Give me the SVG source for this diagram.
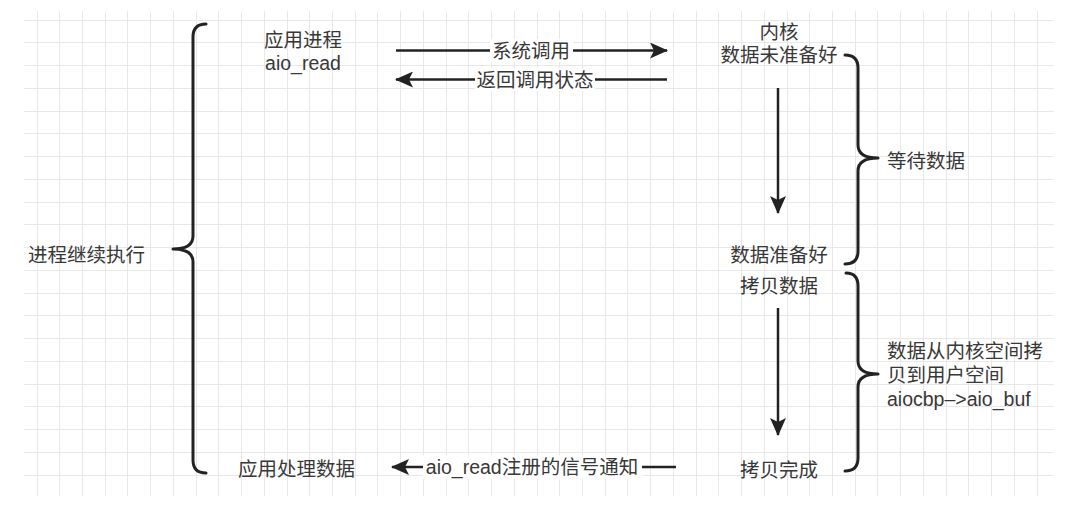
<svg xmlns="http://www.w3.org/2000/svg" width="1084" height="521" viewBox="0 0 1084 521">
<style>
.t{font-family:"Liberation Sans","Noto Sans CJK SC",sans-serif;font-size:19.5px;fill:#383838}
.c{text-anchor:middle}
.br{fill:none;stroke:#222;stroke-width:3;stroke-linecap:round;stroke-linejoin:round}
.ar{fill:none;stroke:#222;stroke-width:2.5}
.grid{fill:none;stroke:#e8e8e8;stroke-width:1}
.bg{fill:#fff}
</style>
<defs>
<marker id="arr" markerUnits="userSpaceOnUse" viewBox="0 0 18 16" markerWidth="18" markerHeight="16" refX="17" refY="8" orient="auto">
<path d="M0,0 L18,8 L0,16 L4,8 Z" fill="#222"/>
</marker>
</defs>
<rect width="1084" height="521" fill="#fff"/>
<g id="grid">
<path class="grid" d="M37.5,11V496M59.5,11V496M82.5,11V496M105.5,11V496M127.5,11V496M150.5,11V496M173.5,11V496M196.5,11V496M218.5,11V496M241.5,11V496M264.5,11V496M287.5,11V496M309.5,11V496M332.5,11V496M355.5,11V496M377.5,11V496M400.5,11V496M423.5,11V496M446.5,11V496M468.5,11V496M491.5,11V496M514.5,11V496M537.5,11V496M559.5,11V496M582.5,11V496M605.5,11V496M627.5,11V496M650.5,11V496M673.5,11V496M696.5,11V496M718.5,11V496M741.5,11V496M764.5,11V496M787.5,11V496M809.5,11V496M832.5,11V496M855.5,11V496M877.5,11V496M900.5,11V496M923.5,11V496M946.5,11V496M968.5,11V496M991.5,11V496M1014.5,11V496M1037.5,11V496"/>
<path class="grid" d="M24,20.5H1054M24,42.5H1054M24,65.5H1054M24,88.5H1054M24,111.5H1054M24,133.5H1054M24,156.5H1054M24,179.5H1054M24,202.5H1054M24,224.5H1054M24,247.5H1054M24,270.5H1054M24,293.5H1054M24,315.5H1054M24,338.5H1054M24,361.5H1054M24,384.5H1054M24,406.5H1054M24,429.5H1054M24,452.5H1054M24,475.5H1054"/>
</g>
<g id="connectors">
<path class="ar" d="M396,50.5 L667,50.5" marker-end="url(#arr)"/>
<path class="ar" d="M667,79.5 L396,79.5" marker-end="url(#arr)"/>
<path class="ar" d="M778,88 L778,213" marker-end="url(#arr)"/>
<path class="ar" d="M778,308 L778,435" marker-end="url(#arr)"/>
<path class="ar" d="M676,467 L392,467" marker-end="url(#arr)"/>
<rect class="bg" x="490" y="39" width="83" height="23"/>
<text class="t c" x="531" y="58">系统调用</text>
<rect class="bg" x="475" y="68" width="120" height="23"/>
<text class="t c" x="535" y="87">返回调用状态</text>
<rect class="bg" x="423" y="455" width="219" height="24"/>
<text class="t c" x="532" y="474">aio_read注册的信号通知</text>
</g>
<g id="brace-left"><path class="br" d="M206,24 Q193,24 193,37 L193,236 Q193,249 173,249 Q193,249 193,262 L193,460 Q193,473 206,473"/></g>
<g id="brace-wait"><path class="br" d="M845,55 Q858,55 858,68 L858,145 Q858,158 878,158 Q858,158 858,171 L858,251 Q858,264 845,264"/></g>
<g id="brace-copy"><path class="br" d="M846,273 Q858,273 858,286 L858,361 Q858,374 878,374 Q858,374 858,387 L858,458 Q858,471 845,471"/></g>
<g id="app"><text class="t c" x="303" y="47">应用进程</text><text class="t c" x="303" y="70">aio_read</text></g>
<g id="kernel"><text class="t c" x="779" y="39">内核</text><text class="t c" x="779" y="62">数据未准备好</text></g>
<g id="ready"><text class="t c" x="779" y="262">数据准备好</text></g>
<g id="copy"><text class="t c" x="779" y="293">拷贝数据</text></g>
<g id="done"><text class="t c" x="779" y="477">拷贝完成</text></g>
<g id="wait"><text class="t" x="887" y="168">等待数据</text></g>
<g id="copydesc"><text class="t" x="887" y="358">数据从内核空间拷</text><text class="t" x="887" y="382">贝到用户空间</text><text class="t" x="887" y="406">aiocbp–&gt;aio_buf</text></g>
<g id="continue"><text class="t" x="28" y="262">进程继续执行</text></g>
<g id="process"><text class="t" x="238" y="476">应用处理数据</text></g>
</svg>
